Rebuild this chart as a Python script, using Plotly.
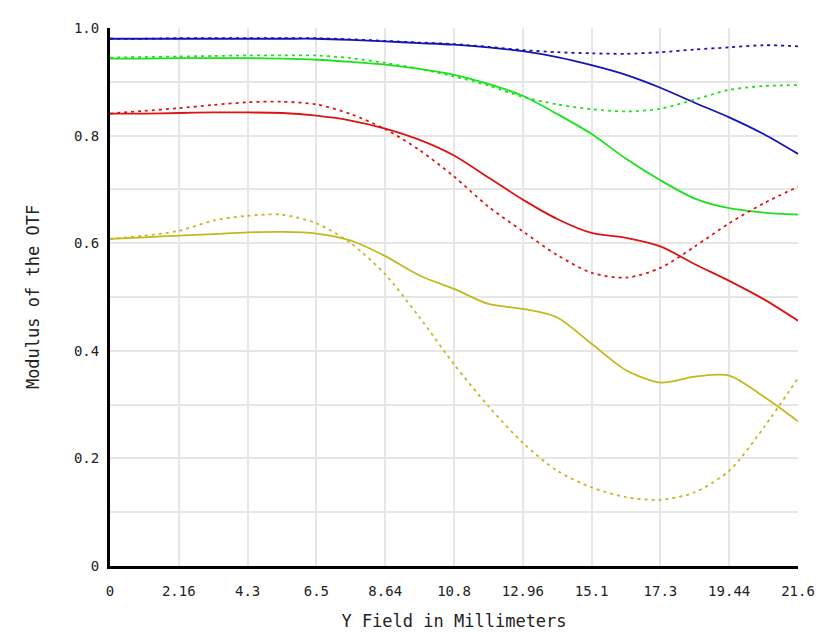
import plotly.graph_objects as go

# Y field positions (mm)
field_mm = [0, 1.08, 2.16, 3.24, 4.32, 5.4, 6.48, 7.56, 8.64, 9.72, 10.8,
            11.88, 12.96, 14.04, 15.12, 16.2, 17.28, 18.36, 19.44, 20.52, 21.6]

# modulus of the OTF per field, solid = tangential, dotted = sagittal
blue_t = [0.980, 0.980, 0.980, 0.980, 0.980, 0.980, 0.980, 0.978, 0.975, 0.972, 0.969,
          0.964, 0.957, 0.946, 0.931, 0.913, 0.889, 0.861, 0.834, 0.803, 0.766]
blue_s = [0.980, 0.980, 0.981, 0.981, 0.981, 0.981, 0.981, 0.979, 0.976, 0.973, 0.970,
          0.965, 0.959, 0.955, 0.953, 0.952, 0.955, 0.960, 0.964, 0.968, 0.966]
green_t = [0.943, 0.943, 0.944, 0.944, 0.944, 0.943, 0.941, 0.937, 0.932, 0.924, 0.913,
           0.896, 0.874, 0.840, 0.803, 0.757, 0.717, 0.683, 0.665, 0.657, 0.653]
green_s = [0.945, 0.946, 0.947, 0.948, 0.949, 0.949, 0.949, 0.944, 0.935, 0.924, 0.910,
           0.893, 0.872, 0.858, 0.849, 0.845, 0.850, 0.867, 0.885, 0.892, 0.894]
red_t = [0.841, 0.841, 0.842, 0.843, 0.843, 0.842, 0.837, 0.828, 0.813, 0.792, 0.763,
         0.722, 0.681, 0.645, 0.619, 0.610, 0.594, 0.561, 0.530, 0.496, 0.456]
red_s = [0.841, 0.846, 0.851, 0.857, 0.862, 0.863, 0.858, 0.840, 0.812, 0.773, 0.724,
         0.668, 0.622, 0.578, 0.545, 0.536, 0.554, 0.594, 0.637, 0.674, 0.705]
yellow_t = [0.608, 0.611, 0.614, 0.617, 0.620, 0.621, 0.618, 0.605, 0.576, 0.540, 0.515,
            0.487, 0.478, 0.462, 0.413, 0.364, 0.341, 0.352, 0.354, 0.315, 0.269]
yellow_s = [0.608, 0.614, 0.623, 0.642, 0.651, 0.653, 0.637, 0.600, 0.542, 0.462, 0.375,
            0.297, 0.229, 0.177, 0.146, 0.128, 0.123, 0.137, 0.177, 0.257, 0.349]

x_tickvals = [0, 2.16, 4.32, 6.48, 8.64, 10.8, 12.96, 15.12, 17.28, 19.44, 21.6]
x_ticktext = ["0", "2.16", "4.3", "6.5", "8.64", "10.8", "12.96", "15.1", "17.3", "19.44", "21.6"]
y_tickvals = [0, 0.1, 0.2, 0.3, 0.4, 0.5, 0.6, 0.7, 0.8, 0.9, 1.0]
y_ticktext = ["0", "", "0.2", "", "0.4", "", "0.6", "", "0.8", "", "1.0"]

series = [
    (blue_t, "#1414b4", "solid"),
    (blue_s, "#1414b4", "3px,4px"),
    (green_t, "#1ee11e", "solid"),
    (green_s, "#1ee11e", "3px,4px"),
    (red_t, "#dc1414", "solid"),
    (red_s, "#dc1414", "3px,4px"),
    (yellow_t, "#c3b91e", "solid"),
    (yellow_s, "#c3b91e", "3px,4px"),
]

fig = go.Figure()
for vals, color, dash in series:
    fig.add_trace(go.Scatter(
        x=field_mm, y=vals, mode="lines",
        line=dict(color=color, width=1.8, dash=dash, shape="spline", smoothing=0.8),
        showlegend=False, hoverinfo="skip",
    ))

font_mono = "DejaVu Sans Mono, Liberation Mono, monospace"

# page body has an 8px margin, so the figure is sized/offset to compensate
fig.update_layout(
    width=820, height=633,
    margin=dict(l=102, r=30, t=17, b=73),
    plot_bgcolor="white", paper_bgcolor="white",
    font=dict(family=font_mono, size=14, color="#222222"),
)
fig.update_xaxes(
    range=[0, 21.6], tickvals=x_tickvals, ticktext=x_ticktext,
    showgrid=True, gridcolor="#e6e6e6", gridwidth=2, zeroline=False,
    showline=True, linecolor="black", linewidth=3,
    ticks="", ticklabelstandoff=10,
    title=dict(text="Y Field in Millimeters", font=dict(size=17), standoff=18),
)
fig.update_yaxes(
    range=[0, 1.0], tickvals=y_tickvals, ticktext=y_ticktext,
    showgrid=True, gridcolor="#e6e6e6", gridwidth=2, zeroline=False,
    showline=True, linecolor="black", linewidth=3,
    ticks="", ticklabelstandoff=5,
    title=dict(text="Modulus of the OTF", font=dict(size=17), standoff=30),
)

fig.write_html("out.html")
